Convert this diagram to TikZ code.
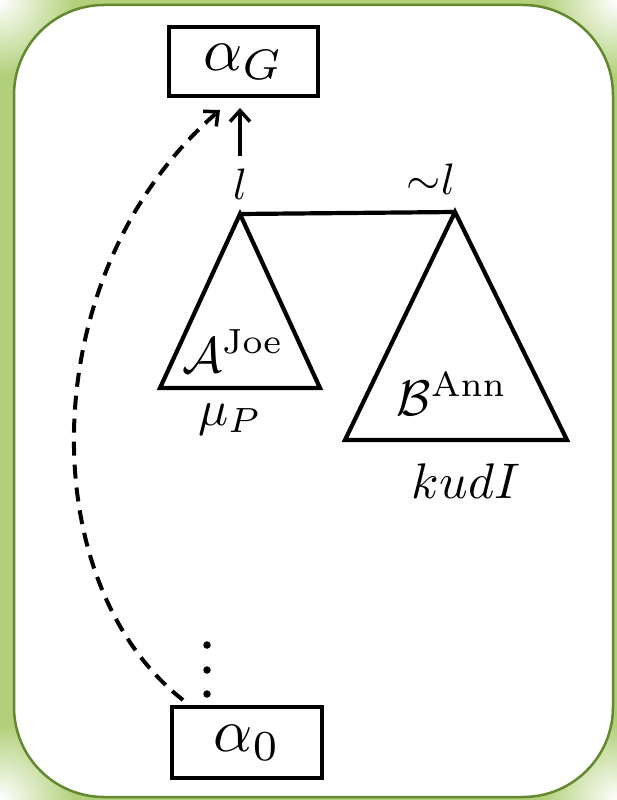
\documentclass[tikz,border=0pt]{standalone}
\usetikzlibrary{arrows.meta}
\definecolor{leaf}{RGB}{178,208,122}
\definecolor{leafdark}{RGB}{100,136,48}
\newcommand{\zbig}[1]{\scalebox{6.1}{#1}}
\newcommand{\zlab}[1]{\scalebox{4.4}{#1}}
\newcommand{\zmid}[1]{\scalebox{5}{#1}}
\begin{document}
\begin{tikzpicture}[x=1pt,y=-1pt,
  every node/.style={inner sep=0pt,outer sep=0pt},
  box/.style={draw,line width=4.5pt},
  tri/.style={line width=4.2pt,line join=miter},
  dot/.style={circle,fill,minimum size=7.5pt},
  tip/.style={-{Straight Barb[length=11pt,width=20pt,line width=3.5pt]}},
  arr/.style={tip,line width=3.5pt},
  dasharr/.style={tip,line width=4pt,dash pattern=on 14pt off 9pt}]
\useasboundingbox (0,0) rectangle (617,800);
\fill[leaf] (0,0) rectangle (617,800);
\shade[inner color=white,outer color=leaf] (0,0) circle (75pt);
\shade[inner color=white,outer color=leaf] (617,0) circle (75pt);
\shade[inner color=white,outer color=leaf] (0,800) circle (75pt);
\shade[inner color=white,outer color=leaf] (617,800) circle (75pt);
\draw[leafdark,line width=2.5pt,fill=white,rounded corners=90pt] (14,5) rectangle (613,797);
% boxes
\node[box,minimum width=149pt,minimum height=69pt] (aG) at (243.5,61.5) {\zbig{$\alpha_G$}};
\node[box,minimum width=150pt,minimum height=71pt] (a0) at (247,742.5) {\zbig{$\alpha_0$}};
% triangles
\coordinate (ta) at (240,214);
\coordinate (tl) at (160,388);
\coordinate (tr) at (320,388);
\coordinate (ua) at (455,212);
\coordinate (ul) at (345,440);
\coordinate (ur) at (567,440);
\draw[tri] (ta) -- (tl) -- (tr) -- cycle;
\draw[tri] (ua) -- (ul) -- (ur) -- cycle;
\draw[tri] (ta) -- (ua);
% labels
\node (l1) at (240,184) {\zlab{$l$}};
\node (l2) at (431,179) {\zlab{${\sim}l$}};
\node[anchor=base] (A) at (233,372) {\zmid{$\mathcal{A}^{\mathrm{Joe}}$}};
\node[anchor=base] (mu) at (230,425) {\zmid{$\mu_P$}};
\node[anchor=base] (B) at (452,415) {\zmid{$\mathcal{B}^{\mathrm{Ann}}$}};
\node[anchor=base] (k) at (466,498) {\zmid{$kudI$}};
% dots
\node[dot] (d1) at (207,645) {};
\node[dot] (d2) at (207,670) {};
\node[dot] (d3) at (207,694) {};
% arrows
\draw[arr,shorten <=13pt,shorten >=12pt] (l1.north) -- (l1.north |- aG.south);
\draw[dasharr] ([xshift=11pt,yshift=7pt]a0.north west) .. controls (30,580) and (35,270) .. ([xshift=-23.5pt,yshift=-14pt]aG.south);
\end{tikzpicture}
\end{document}
